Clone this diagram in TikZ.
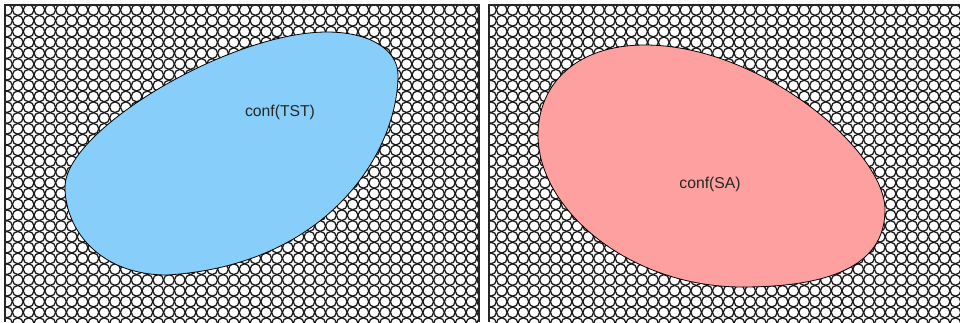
\documentclass[tikz,border=0pt]{standalone}
\usepackage{fontspec}
\setmainfont{Liberation Sans}
\usetikzlibrary{positioning}

\definecolor{tstblue}{RGB}{135,206,250}
\definecolor{sapink}{RGB}{255,160,160}

\tikzset{
    panelframe/.style={draw=black!85, line width=1.5pt},
    ring/.style={draw=black!90, line width=0.95pt},
    blob/.style={draw=black, line width=0.6pt},
    blobtext/.style={font=\fontsize{11.8}{14}\selectfont, text=black!85}
}

\begin{document}
\begin{tikzpicture}[x=0.75pt, y=-0.75pt]
        \useasboundingbox (0,0) rectangle (960,322);

        % Left panel: ring pattern
        \begin{scope}
            \clip (5,5) rectangle (479,322);
            \foreach \i in {0,...,44}
                \foreach \j in {-1,...,29}
                    \draw[ring] ({7+10.8*\i},{10+10.8*\j}) circle[radius=4.0pt];
        \end{scope}

        % Right panel: ring pattern
        \begin{scope}
            \clip (489,5) rectangle (960,322);
            \foreach \i in {0,...,44}
                \foreach \j in {-1,...,29}
                    \draw[ring] ({491+10.8*\i},{10+10.8*\j}) circle[radius=4.0pt];
        \end{scope}

        % Panel frames
        \draw[panelframe] (5,322) -- (5,5) -- (479,5) -- (479,322);
        \draw[panelframe] (489,322) -- (489,5) -- (960,5);

        % conf(TST) region
        \draw[blob, fill=tstblue] (327,32)
            .. controls (370,32) and (398,50) .. (398,75)
            .. controls (398,150) and (330,265) .. (167,275)
            .. controls (100,275) and (65,230) .. (65,187)
            .. controls (65,130) and (230,32) .. (327,32) -- cycle;
        \node[blobtext] (tst) at (280,112) {conf(TST)};

        % conf(SA) region
        \draw[blob, fill=sapink] (645,45)
            .. controls (760,45) and (885,150) .. (885,210)
            .. controls (885,268) and (825,287) .. (742,287)
            .. controls (630,287) and (538,210) .. (538,135)
            .. controls (538,85) and (575,45) .. (645,45) -- cycle;
        \node[blobtext] (sa) at (710,184) {conf(SA)};
\end{tikzpicture}
\end{document}
